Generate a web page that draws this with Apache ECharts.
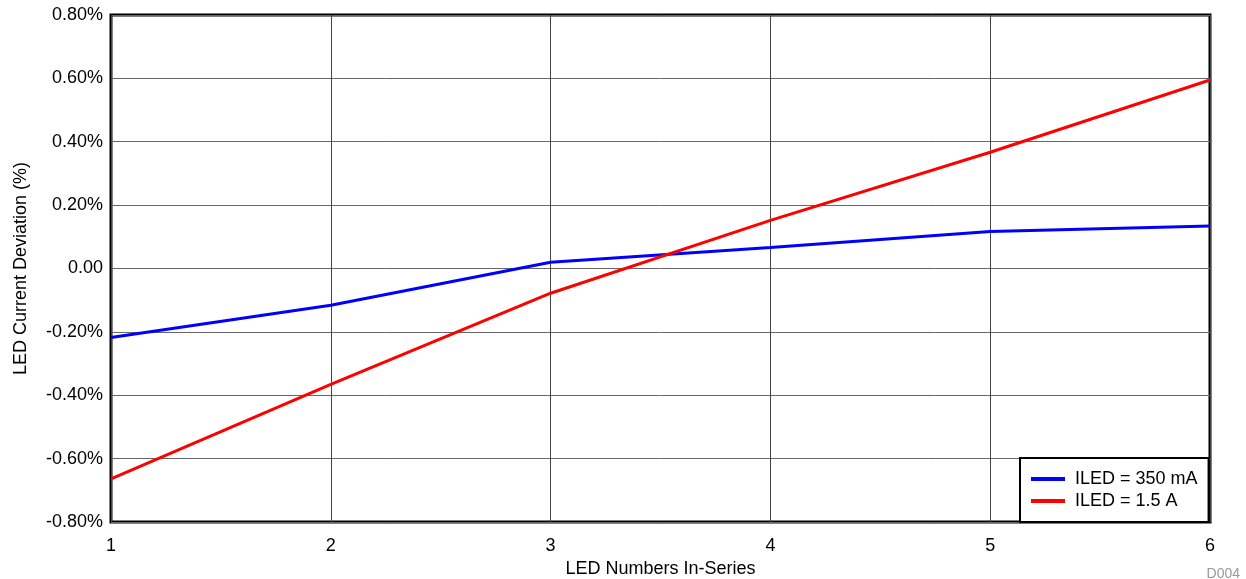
<!DOCTYPE html>
<html>
<head>
<meta charset="utf-8">
<script src="https://cdn.jsdelivr.net/npm/echarts@6/dist/echarts.min.js"></script>
<style>html,body{margin:0;padding:0;background:#fff}#c{width:1246px;height:579px}</style>
</head>
<body>
<div id="c"></div>
<script>
const ledCounts = [1, 2, 3, 4, 5, 6];
const ilde350mA = [-0.218, -0.116, 0.020, 0.066, 0.117, 0.134];
const iled1500mA = [-0.664, -0.366, -0.078, 0.152, 0.367, 0.595];
const seriesNames = ['ILED = 350 mA', 'ILED = 1.5 A'];
const seriesColors = ['#0000ff', '#ff0000'];

const font = 'Liberation Sans, Arial, sans-serif';
const chart = echarts.init(document.getElementById('c'));
function pairs(v) { return ledCounts.map((x, i) => [x, v[i]]); }
chart.setOption({
  animation: false,
  backgroundColor: '#fff',
  grid: { left: 111, right: 36, top: 15, bottom: 57, show: true, borderColor: '#000', borderWidth: 3, backgroundColor: 'transparent', outerBoundsMode: 'none', containLabel: false },
  xAxis: {
    type: 'value', min: 1, max: 6, interval: 1,
    name: 'LED Numbers In-Series', nameLocation: 'middle', nameGap: 32,
    nameTextStyle: { fontFamily: font, fontSize: 18, color: '#000' },
    axisLine: { show: false }, axisTick: { show: false },
    axisLabel: { fontFamily: font, fontSize: 18, color: '#000', margin: 15 },
    splitLine: { show: true, lineStyle: { color: '#444', width: 1 } }
  },
  yAxis: {
    type: 'value', min: -0.8, max: 0.8, interval: 0.2,
    name: 'LED Current Deviation (%)', nameLocation: 'middle', nameGap: 81,
    nameTextStyle: { fontFamily: font, fontSize: 18, color: '#000' },
    axisLine: { show: false }, axisTick: { show: false },
    axisLabel: { fontFamily: font, fontSize: 18, color: '#000', margin: 8,
      formatter: v => Math.abs(v) < 1e-9 ? '0.00' : v.toFixed(2) + '%' },
    splitLine: { show: true, lineStyle: { color: '#666', width: 1 } }
  },
  legend: {
    left: 1020, top: 458, orient: 'vertical',
    backgroundColor: '#fff', borderColor: '#000', borderWidth: 2,
    padding: [12, 11, 12, 11], itemGap: 4,
    icon: 'rect', itemWidth: 34, itemHeight: 4,
    textStyle: { fontFamily: font, fontSize: 18, color: '#000', lineHeight: 18, padding: [0, 0, 0, 5] },
    data: seriesNames
  },
  graphic: [{ type: 'text', right: 6, top: 567, style: { text: 'D004', fontFamily: font, fontSize: 14, fill: '#999' } }],
  series: [
    { name: seriesNames[0], type: 'line', data: pairs(ilde350mA), symbol: 'none', color: seriesColors[0], lineStyle: { width: 3, color: seriesColors[0] }, z: 3 },
    { name: seriesNames[1], type: 'line', data: pairs(iled1500mA), symbol: 'none', color: seriesColors[1], lineStyle: { width: 3, color: seriesColors[1] }, z: 3 }
  ]
});
</script>
</body>
</html>
